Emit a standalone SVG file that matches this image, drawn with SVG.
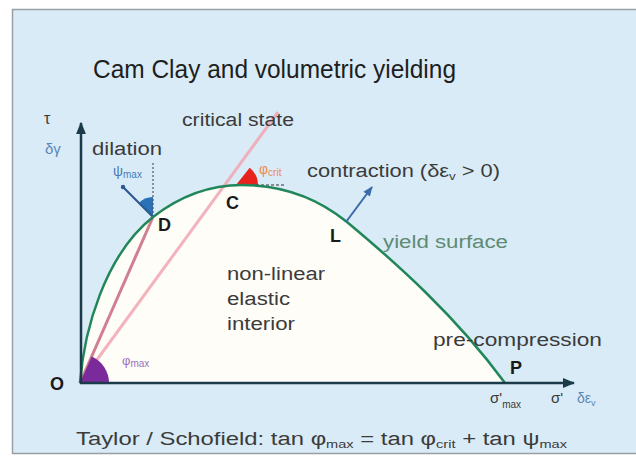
<svg xmlns="http://www.w3.org/2000/svg" width="636" height="457" viewBox="0 0 636 457">
<defs>
<style>
text{font-family:"Liberation Sans",Arial,sans-serif;fill:#3b3b3b}
.lbl{font-size:18px}
.pt{font-size:18px;font-weight:bold;fill:#1a1a1a}
.sub{font-size:11px}
.blue{fill:#5a86b8}
</style>
<marker id="ah" viewBox="0 0 10 10" refX="9" refY="5" markerWidth="5" markerHeight="5" orient="auto-start-reverse"><path d="M0,1 L10,5 L0,9 Z" fill="#1c3b4a"/></marker>
<marker id="ahb" viewBox="0 0 10 10" refX="9" refY="5" markerWidth="5" markerHeight="5" orient="auto"><path d="M0,1 L10,5 L0,9 Z" fill="#3a6aa8"/></marker>
</defs>
<rect x="0" y="0" width="636" height="457" fill="#ffffff"/>
<rect x="12.5" y="9.5" width="630" height="444" fill="#d9ebf6" stroke="#9a9fa3" stroke-width="1.5"/>
<text x="93" y="78" font-size="25" textLength="363" lengthAdjust="spacingAndGlyphs" style="fill:#1e1e1e">Cam Clay and volumetric yielding</text>

<g id="interior">
<path d="M80,383 C84,330 105,255 153,217 C180,196 210,185 242,185 C285,185 320,200 347,222 C395,262 455,315 505,383 Z" fill="#fffdf7"/>
</g>

<g id="connectors">
<line x1="80" y1="383" x2="278" y2="112" stroke="#f2a6b4" stroke-width="3" opacity="0.85"/>
<line x1="80" y1="383" x2="153" y2="217" stroke="#d07f90" stroke-width="3"/>
<path d="M80,383 L109,383 A29,29 0 0,0 91.7,356.5 Z" fill="#7a2a9a"/>
<path d="M236,185 L258,185 A22,22 0 0,0 249.7,167.8 Z" fill="#e8221c"/>
<line x1="236" y1="185" x2="286" y2="185" stroke="#333" stroke-width="1.2" stroke-dasharray="3,2"/>
<path d="M153,217 L153,197 A20,20 0 0,0 138.6,203.2 Z" fill="#2a72b8"/>
<line x1="153" y1="217" x2="153" y2="163" stroke="#555" stroke-width="1.2" stroke-dasharray="2,2"/>
<line x1="153" y1="217" x2="122" y2="186" stroke="#2a5a90" stroke-width="2.2"/>
<circle cx="123" cy="187" r="2.2" fill="#2a5a90"/>
<path d="M80,383 C84,330 105,255 153,217 C180,196 210,185 242,185 C285,185 320,200 347,222 C395,262 455,315 505,383" fill="none" stroke="#21875a" stroke-width="2.5"/>
<line x1="81" y1="384" x2="81" y2="123" stroke="#1c3b4a" stroke-width="2.5" marker-end="url(#ah)"/>
<line x1="80" y1="383" x2="574" y2="383" stroke="#1c3b4a" stroke-width="2.5" marker-end="url(#ah)"/>
<line x1="346" y1="222" x2="372" y2="187" stroke="#3a6aa8" stroke-width="2" marker-end="url(#ahb)"/>
</g>

<g id="node-O"><text x="50" y="390" class="pt">O</text></g>
<g id="node-D"><text x="158" y="231" class="pt">D</text></g>
<g id="node-C"><text x="226" y="209" class="pt">C</text></g>
<g id="node-L"><text x="330" y="242" class="pt">L</text></g>
<g id="node-P"><text x="510" y="374" class="pt">P</text></g>

<g id="labels">
<text x="44" y="124" font-size="16">τ</text>
<text x="45" y="154" font-size="15" class="blue">δγ</text>
<text x="92" y="155" class="lbl" textLength="70" lengthAdjust="spacingAndGlyphs">dilation</text>
<text x="182" y="126" class="lbl" textLength="112" lengthAdjust="spacingAndGlyphs">critical state</text>
<text x="113" y="176" font-size="14" style="fill:#4a7ab8">ψ<tspan font-size="10" dy="2">max</tspan></text>
<text x="259" y="174" font-size="14" style="fill:#f08a50">φ<tspan font-size="10" dy="2">crit</tspan></text>
<text x="122" y="365" font-size="13" style="fill:#9a70c0">φ<tspan font-size="10" dy="2">max</tspan></text>
<text x="307" y="177" class="lbl" textLength="193" lengthAdjust="spacingAndGlyphs">contraction (δε<tspan class="sub" dy="3">v</tspan><tspan dy="-3"> &gt; 0)</tspan></text>
<text x="383" y="248" class="lbl" style="fill:#5f8a74" textLength="125" lengthAdjust="spacingAndGlyphs">yield surface</text>
<text x="227" y="280" class="lbl" textLength="98" lengthAdjust="spacingAndGlyphs">non-linear</text>
<text x="227" y="305" class="lbl" textLength="63" lengthAdjust="spacingAndGlyphs">elastic</text>
<text x="227" y="330" class="lbl" textLength="68" lengthAdjust="spacingAndGlyphs">interior</text>
<text x="433" y="346" class="lbl" textLength="169" lengthAdjust="spacingAndGlyphs">pre-compression</text>
<text x="490" y="403" font-size="15">σ'<tspan font-size="10" dy="5">max</tspan></text>
<text x="551" y="403" font-size="15">σ'</text>
<text x="577" y="403" font-size="14" class="blue">δε<tspan font-size="9" dy="3">v</tspan></text>
<text x="76" y="445" font-size="18" textLength="491" lengthAdjust="spacingAndGlyphs">Taylor / Schofield: tan φ<tspan class="sub" dy="3">max</tspan><tspan dy="-3"> = tan φ</tspan><tspan class="sub" dy="3">crit</tspan><tspan dy="-3"> + tan ψ</tspan><tspan class="sub" dy="3">max</tspan></text>
</g>
</svg>
